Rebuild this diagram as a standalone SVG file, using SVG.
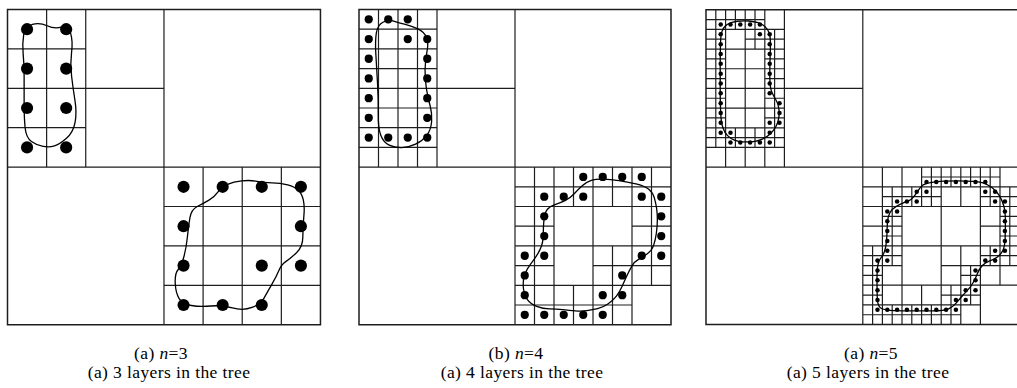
<svg xmlns="http://www.w3.org/2000/svg" width="1017" height="388" viewBox="0 0 1017 388">
<style>
.o{fill:none;stroke:#1e1e1e;stroke-width:1.5}
.g{fill:none;stroke:#1e1e1e;stroke-width:1.2}
.c{fill:none;stroke:#000;stroke-width:1.3;stroke-linejoin:round}
.d{fill:#000;stroke:none}
text{font-family:"Liberation Serif","Times New Roman",serif;font-size:17.5px;letter-spacing:0.4px;fill:#000;text-anchor:middle}
</style>
<rect width="1017" height="388" fill="#fff"/>

<g id="panel-n3" transform="translate(7.5,9.5) scale(9.78,9.85)">
<path class="g" vector-effect="non-scaling-stroke" d="M0 16H32M16 0V32M0 8H16M8 0V16M4 0V16M0 4H8M0 12H8M16 24H32M24 16V32M16 20H32M16 28H32M20 16V32M28 16V32"/>
<rect class="o" vector-effect="non-scaling-stroke" x="0" y="0" width="32" height="32"/>
<path class="c" vector-effect="non-scaling-stroke" d="M1.65 2.6Q1.8 1.7 2.55 1.5Q3.3 1.3 4.05 1.65Q4.8 2 5.5 1.8Q6.2 1.6 6.45 2.4Q6.7 3.2 6.55 4.35Q6.4 5.5 6.55 6.75Q6.7 8 6.9 9.25Q7.1 10.5 6.9 11.5Q6.7 12.5 6 13.1Q5.3 13.7 4.8 13.85Q4.3 14 3.65 13.9Q3 13.8 2.45 13.4Q1.9 13 1.8 12Q1.7 11 1.7 9.5Q1.7 8 1.7 6.75Q1.7 5.5 1.6 4.5Q1.5 3.5 1.65 2.6Z"/>
<path class="c" vector-effect="non-scaling-stroke" d="M21.55 18.5Q21.9 18 22.5 17.75Q23.1 17.5 23.95 17.4Q24.8 17.3 25.5 17.45Q26.2 17.6 27.05 17.6Q27.9 17.6 28.650 17.8Q29.4 18 29.75 18.35Q30.1 18.7 30.25 19.35Q30.4 20 30.3 21Q30.2 22 30.2 23.05Q30.2 24.1 29.55 24.7Q28.9 25.3 28.45 25.6Q28 25.9 27.75 26.5Q27.5 27.1 27 27.95Q26.5 28.8 26.2 29.35Q25.9 29.9 25 30.25Q24.1 30.6 23 30.3Q21.9 30 20.8 30.1Q19.7 30.2 18.8 30.05Q17.9 29.9 17.55 29.35Q17.2 28.8 17.15 27.8Q17.1 26.8 17.45 26.4Q17.8 26 18.05 25.05Q18.3 24.1 18.4 23.05Q18.5 22 18.65 21.15Q18.8 20.3 19.4 20Q20 19.7 20.6 19.35Q21.2 19 21.55 18.5Z"/>
<g class="d">
<circle cx="2" cy="2" r="0.62"/><circle cx="6" cy="2" r="0.62"/><circle cx="2" cy="6" r="0.62"/><circle cx="6" cy="6" r="0.62"/>
<circle cx="2" cy="10" r="0.62"/><circle cx="6" cy="10" r="0.62"/><circle cx="2" cy="14" r="0.62"/><circle cx="6" cy="14" r="0.62"/>
<circle cx="18" cy="18" r="0.62"/><circle cx="22" cy="18" r="0.62"/><circle cx="26" cy="18" r="0.62"/><circle cx="30" cy="18" r="0.62"/>
<circle cx="18" cy="22" r="0.62"/><circle cx="30" cy="22" r="0.62"/>
<circle cx="18" cy="26" r="0.62"/><circle cx="26" cy="26" r="0.62"/><circle cx="30" cy="26" r="0.62"/>
<circle cx="18" cy="30" r="0.62"/><circle cx="22" cy="30" r="0.62"/><circle cx="26" cy="30" r="0.62"/>
</g>
</g>

<g id="panel-n4" transform="translate(359,9.5) scale(9.75,9.85)">
<path class="g" vector-effect="non-scaling-stroke" d="M0 16H32M16 0V32M0 8H16M8 0V16M4 0V16M0 4H8M0 12H8M2 0V16M6 0V16M0 2H8M0 6H8M0 10H8M0 14H8M16 24H32M24 16V32M16 20H32M16 28H32M20 16V32M28 16V32M16 18H32M18 16V20M22 16V20M26 16V20M30 16V20M16 22H20M18 20V24M28 22H32M30 20V24M16 26H20M18 24V28M24 26H32M26 24V28M30 24V28M16 30H28M18 28V32M22 28V32M26 28V32"/>
<rect class="o" vector-effect="non-scaling-stroke" x="0" y="0" width="32" height="32"/>
<path class="c" vector-effect="non-scaling-stroke" d="M3.55 1.175Q3 1 2.45 1.3Q1.9 1.6 1.775 2.4Q1.65 3.2 1.725 4.5Q1.8 5.8 1.9 7.5Q2 9.2 1.975 10.6Q1.95 12 2.225 12.75Q2.5 13.5 3.1 13.775Q3.7 14.05 4.4 14.025Q5.1 14 5.8 13.675Q6.5 13.35 6.95 12.775Q7.4 12.2 7.45 11.35Q7.5 10.5 7.3 9.8Q7.1 9.1 6.925 8.1Q6.75 7.1 6.775 6.1Q6.8 5.1 6.975 4.25Q7.15 3.4 6.925 2.85Q6.7 2.3 6.05 1.975Q5.4 1.65 4.75 1.5Q4.1 1.35 3.55 1.175Z"/>
<path class="c" vector-effect="non-scaling-stroke" d="M23.825 17.35Q24.3 17.2 25.05 17.225Q25.8 17.25 26.65 17.375Q27.5 17.5 28.4 17.7Q29.3 17.9 29.725 18.25Q30.15 18.6 30.3 19.15Q30.45 19.7 30.525 20.2Q30.6 20.7 30.6 21.35Q30.6 22 30.5 22.7Q30.4 23.4 30.225 23.925Q30.05 24.45 29.575 24.8Q29.1 25.15 28.675 25.375Q28.25 25.6 28 26.025Q27.75 26.45 27.5 26.975Q27.25 27.5 27 28.075Q26.75 28.65 26.4 29.1Q26.05 29.55 25.525 29.9Q25 30.25 24.475 30.375Q23.95 30.5 23.375 30.575Q22.8 30.65 22.2 30.6Q21.6 30.55 20.925 30.475Q20.25 30.4 19.55 30.4Q18.85 30.4 18.225 30.15Q17.6 29.9 17.275 29.45Q16.95 29 16.875 28.4Q16.8 27.8 16.9 27.275Q17 26.75 17.275 26.325Q17.55 25.9 17.9 25.45Q18.25 25 18.575 24.35Q18.9 23.7 18.9 22.85Q18.9 22 18.975 21.3Q19.05 20.6 19.325 20.275Q19.6 19.950 20.1 19.8Q20.6 19.65 21.125 19.4Q21.65 19.15 22.075 18.7Q22.5 18.25 22.925 17.875Q23.35 17.5 23.825 17.35Z"/>
<g class="d">
<circle cx="1" cy="1" r="0.42"/><circle cx="3" cy="1" r="0.42"/><circle cx="5" cy="1" r="0.42"/>
<circle cx="1" cy="3" r="0.42"/><circle cx="5" cy="3" r="0.42"/><circle cx="7" cy="3" r="0.42"/>
<circle cx="1" cy="5" r="0.42"/><circle cx="7" cy="5" r="0.42"/>
<circle cx="1" cy="7" r="0.42"/><circle cx="7" cy="7" r="0.42"/>
<circle cx="1" cy="9" r="0.42"/><circle cx="7" cy="9" r="0.42"/>
<circle cx="1" cy="11" r="0.42"/><circle cx="7" cy="11" r="0.42"/>
<circle cx="1" cy="13" r="0.42"/><circle cx="3" cy="13" r="0.42"/><circle cx="5" cy="13" r="0.42"/><circle cx="7" cy="13" r="0.42"/>
<circle cx="23" cy="17" r="0.42"/><circle cx="25" cy="17" r="0.42"/><circle cx="27" cy="17" r="0.42"/><circle cx="29" cy="17" r="0.42"/>
<circle cx="19" cy="19" r="0.42"/><circle cx="21" cy="19" r="0.42"/><circle cx="23" cy="19" r="0.42"/><circle cx="29" cy="19" r="0.42"/><circle cx="31" cy="19" r="0.42"/>
<circle cx="19" cy="21" r="0.42"/><circle cx="31" cy="21" r="0.42"/>
<circle cx="19" cy="23" r="0.42"/><circle cx="31" cy="23" r="0.42"/>
<circle cx="17" cy="25" r="0.42"/><circle cx="19" cy="25" r="0.42"/><circle cx="29" cy="25" r="0.42"/><circle cx="31" cy="25" r="0.42"/>
<circle cx="17" cy="27" r="0.42"/><circle cx="27" cy="27" r="0.42"/>
<circle cx="17" cy="29" r="0.42"/><circle cx="25" cy="29" r="0.42"/><circle cx="27" cy="29" r="0.42"/>
<circle cx="17" cy="31" r="0.42"/><circle cx="19" cy="31" r="0.42"/><circle cx="21" cy="31" r="0.42"/><circle cx="23" cy="31" r="0.42"/><circle cx="25" cy="31" r="0.42"/>
</g>
</g>

<g id="panel-n5" transform="translate(706,9.7) scale(9.8,9.84)">
<path class="g" vector-effect="non-scaling-stroke" d="M0 16H32M16 0V32M0 8H16M8 0V16M4 0V16M0 4H8M0 12H8M2 0V16M6 0V16M0 2H8M0 6H8M0 10H8M0 14H8M1 0V14M3 0V2M3 12V14M5 0V4M5 12V14M7 2V14M0 1H6M0 3H2M4 3H8M0 5H2M6 5H8M0 7H2M6 7H8M0 9H2M6 9H8M0 11H2M6 11H8M0 13H8M16 24H32M24 16V32M16 20H32M16 28H32M20 16V32M28 16V32M16 18H32M16 22H20M28 22H32M16 26H20M24 26H32M16 30H28M18 16V32M22 16V20M22 28V32M26 16V20M26 24V32M30 16V28M17 24V32M19 18V26M19 30V32M21 18V20M21 30V32M23 16V20M23 30V32M25 16V18M25 28V32M27 16V18M27 26V30M29 16V20M29 24V26M31 18V26M22 17H30M18 19H24M28 19H32M18 21H20M30 21H32M18 23H20M30 23H32M16 25H20M28 25H32M16 27H18M26 27H28M16 29H18M24 29H28M16 31H26"/>
<rect class="o" vector-effect="non-scaling-stroke" x="0" y="0" width="32" height="32"/>
<path class="c" vector-effect="non-scaling-stroke" d="M1.475 3.55Q1.5 2.6 1.65 2.15Q1.8 1.7 2.2 1.475Q2.6 1.25 3.2 1.175Q3.8 1.1 4.35 1.15Q4.9 1.2 5.3 1.325Q5.7 1.45 6 1.7Q6.3 1.95 6.45 2.375Q6.6 2.8 6.575 3.65Q6.55 4.5 6.525 5.5Q6.5 6.5 6.525 7.25Q6.55 8 6.725 8.4Q6.9 8.8 7.125 9.15Q7.35 9.5 7.425 10Q7.5 10.5 7.425 11Q7.35 11.5 7.125 11.9Q6.9 12.3 6.55 12.625Q6.2 12.95 5.75 13.15Q5.3 13.35 4.8 13.4Q4.3 13.45 3.8 13.425Q3.3 13.4 2.9 13.25Q2.5 13.1 2.2 12.8Q1.9 12.5 1.725 12Q1.55 11.5 1.5 10.5Q1.45 9.5 1.45 8.25Q1.45 7 1.45 5.75Q1.45 4.5 1.475 3.55Z"/>
<path class="c" vector-effect="non-scaling-stroke" d="M22.1 17.85Q22.3 17.7 22.9 17.575Q23.5 17.45 24.25 17.425Q25 17.4 25.75 17.4Q26.5 17.4 27.25 17.45Q28 17.5 28.4 17.65Q28.8 17.8 29.2 18.1Q29.6 18.4 29.9 18.85Q30.2 19.3 30.375 19.9Q30.55 20.5 30.55 21.5Q30.55 22.5 30.525 23.25Q30.5 24 30.3 24.45Q30.1 24.9 29.7 25.15Q29.3 25.4 28.9 25.55Q28.5 25.7 28.2 26Q27.9 26.3 27.7 26.8Q27.5 27.3 27.25 27.75Q27 28.2 26.7 28.5Q26.4 28.8 26.1 29.15Q25.8 29.5 25.5 29.85Q25.2 30.2 24.75 30.4Q24.3 30.6 23.15 30.6Q22 30.6 20.75 30.6Q19.5 30.6 18.75 30.55Q18 30.5 17.75 30.25Q17.5 30 17.475 29.25Q17.45 28.5 17.45 27.5Q17.45 26.5 17.525 26Q17.6 25.5 17.9 25.15Q18.2 24.8 18.325 24.15Q18.45 23.5 18.475 22.5Q18.5 21.5 18.6 21.05Q18.7 20.6 19 20.3Q19.3 20 19.75 19.8Q20.2 19.6 20.6 19.45Q21 19.3 21.25 18.95Q21.5 18.6 21.7 18.3Q21.9 18 22.1 17.85Z"/>
<g class="d">
<circle cx="1.5" cy="1.5" r="0.23"/><circle cx="2.5" cy="1.5" r="0.23"/><circle cx="3.5" cy="1.5" r="0.23"/><circle cx="4.5" cy="1.5" r="0.23"/><circle cx="5.5" cy="1.5" r="0.23"/>
<circle cx="1.5" cy="2.5" r="0.23"/><circle cx="5.5" cy="2.5" r="0.23"/><circle cx="6.5" cy="2.5" r="0.23"/>
<circle cx="1.5" cy="3.5" r="0.23"/><circle cx="6.5" cy="3.5" r="0.23"/>
<circle cx="1.5" cy="4.5" r="0.23"/><circle cx="6.5" cy="4.5" r="0.23"/>
<circle cx="1.5" cy="5.5" r="0.23"/><circle cx="6.5" cy="5.5" r="0.23"/>
<circle cx="1.5" cy="6.5" r="0.23"/><circle cx="6.5" cy="6.5" r="0.23"/>
<circle cx="1.5" cy="7.5" r="0.23"/><circle cx="6.5" cy="7.5" r="0.23"/>
<circle cx="1.5" cy="8.5" r="0.23"/><circle cx="6.5" cy="8.5" r="0.23"/>
<circle cx="1.5" cy="9.5" r="0.23"/><circle cx="7.5" cy="9.5" r="0.23"/>
<circle cx="1.5" cy="10.5" r="0.23"/><circle cx="7.5" cy="10.5" r="0.23"/>
<circle cx="1.5" cy="11.5" r="0.23"/><circle cx="6.5" cy="11.5" r="0.23"/><circle cx="7.5" cy="11.5" r="0.23"/>
<circle cx="1.5" cy="12.5" r="0.23"/><circle cx="2.5" cy="12.5" r="0.23"/><circle cx="6.5" cy="12.5" r="0.23"/>
<circle cx="2.5" cy="13.5" r="0.23"/><circle cx="3.5" cy="13.5" r="0.23"/><circle cx="4.5" cy="13.5" r="0.23"/><circle cx="5.5" cy="13.5" r="0.23"/><circle cx="6.5" cy="13.5" r="0.23"/>
<circle cx="22.5" cy="17.5" r="0.23"/><circle cx="23.5" cy="17.5" r="0.23"/><circle cx="24.5" cy="17.5" r="0.23"/><circle cx="25.5" cy="17.5" r="0.23"/><circle cx="26.5" cy="17.5" r="0.23"/><circle cx="27.5" cy="17.5" r="0.23"/><circle cx="28.5" cy="17.5" r="0.23"/>
<circle cx="21.5" cy="18.5" r="0.23"/><circle cx="22.5" cy="18.5" r="0.23"/><circle cx="28.5" cy="18.5" r="0.23"/><circle cx="29.5" cy="18.5" r="0.23"/>
<circle cx="19.5" cy="19.5" r="0.23"/><circle cx="20.5" cy="19.5" r="0.23"/><circle cx="21.5" cy="19.5" r="0.23"/><circle cx="29.5" cy="19.5" r="0.23"/><circle cx="30.5" cy="19.5" r="0.23"/>
<circle cx="18.5" cy="20.5" r="0.23"/><circle cx="19.5" cy="20.5" r="0.23"/><circle cx="30.5" cy="20.5" r="0.23"/>
<circle cx="18.5" cy="21.5" r="0.23"/><circle cx="30.5" cy="21.5" r="0.23"/>
<circle cx="18.5" cy="22.5" r="0.23"/><circle cx="30.5" cy="22.5" r="0.23"/>
<circle cx="18.5" cy="23.5" r="0.23"/><circle cx="30.5" cy="23.5" r="0.23"/>
<circle cx="18.5" cy="24.5" r="0.23"/><circle cx="29.5" cy="24.5" r="0.23"/><circle cx="30.5" cy="24.5" r="0.23"/>
<circle cx="17.5" cy="25.5" r="0.23"/><circle cx="18.5" cy="25.5" r="0.23"/><circle cx="28.5" cy="25.5" r="0.23"/><circle cx="29.5" cy="25.5" r="0.23"/>
<circle cx="17.5" cy="26.5" r="0.23"/><circle cx="27.5" cy="26.5" r="0.23"/>
<circle cx="17.5" cy="27.5" r="0.23"/><circle cx="27.5" cy="27.5" r="0.23"/>
<circle cx="17.5" cy="28.5" r="0.23"/><circle cx="26.5" cy="28.5" r="0.23"/><circle cx="27.5" cy="28.5" r="0.23"/>
<circle cx="17.5" cy="29.5" r="0.23"/><circle cx="25.5" cy="29.5" r="0.23"/><circle cx="26.5" cy="29.5" r="0.23"/>
<circle cx="17.5" cy="30.5" r="0.23"/><circle cx="18.5" cy="30.5" r="0.23"/><circle cx="19.5" cy="30.5" r="0.23"/><circle cx="20.5" cy="30.5" r="0.23"/><circle cx="21.5" cy="30.5" r="0.23"/><circle cx="22.5" cy="30.5" r="0.23"/><circle cx="23.5" cy="30.5" r="0.23"/><circle cx="24.5" cy="30.5" r="0.23"/><circle cx="25.5" cy="30.5" r="0.23"/>
</g>
</g>

<g id="captions">
<text x="161" y="358.5">(a) <tspan font-style="italic">n</tspan>=3</text>
<text x="169" y="378">(a) 3 layers in the tree</text>
<text x="516" y="358.5">(b) <tspan font-style="italic">n</tspan>=4</text>
<text x="522" y="378">(a) 4 layers in the tree</text>
<text x="871" y="358.5">(a) <tspan font-style="italic">n</tspan>=5</text>
<text x="868" y="378">(a) 5 layers in the tree</text>
</g>
</svg>
